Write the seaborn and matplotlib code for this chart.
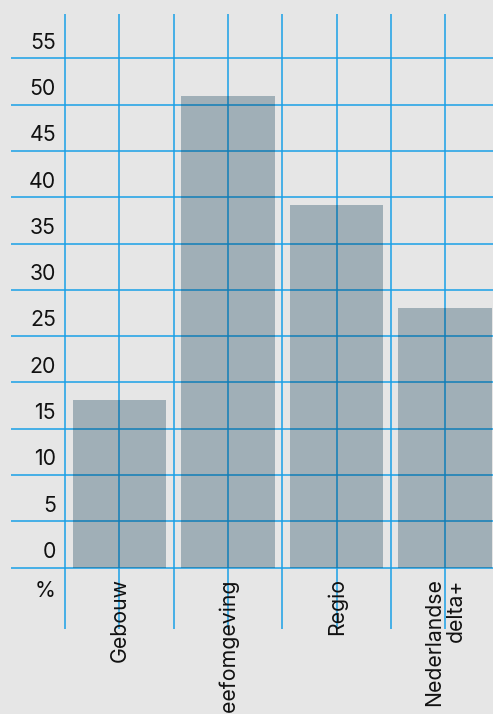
import matplotlib
matplotlib.use("Agg")
import matplotlib.pyplot as plt
import numpy as np
import pandas as pd
import seaborn as sns

# Share per scale level (%)
categories = ["Gebouw", "Leefomgeving", "Regio", "Nederlandse\ndelta+"]
values = [18.1, 50.9, 39.2, 28.0]
y_ticks = [0, 5, 10, 15, 20, 25, 30, 35, 40, 45, 50, 55]
unit_label = "%"

sns.set_theme(style="white")
plt.rcParams["font.family"] = ["Inter", "DejaVu Sans"]

BG = "#e6e6e6"
GRID = "#1aa0e6"
BAR = "#00324d"
TEXT = "#111111"
FS = 15.3

fig = plt.figure(figsize=(4.93, 7.14), dpi=100, facecolor=BG)
ax = fig.add_axes([0, 0, 1, 1])
ax.set_facecolor(BG)

df = pd.DataFrame({"categorie": categories, "waarde": values})
sns.barplot(data=df, x="categorie", y="waarde", color=BAR, alpha=0.3,
            saturation=1, width=0.86, linewidth=0, edgecolor="none",
            ax=ax, zorder=3)

# blue grid: horizontal lines at each tick, vertical lines at bar centres and between bars
ax.hlines(y_ticks, -1.0, 3.6, color=GRID, lw=1.1, zorder=1)
ax.vlines(np.arange(-0.5, len(categories) + 0.01, 0.5), -6.6, 59.8,
          color=GRID, lw=1.1, zorder=1)

ax.set_xlim(-1.101, 3.442)
ax.set_ylim(-15.8, 61.3)
ax.set_xticks([])
ax.set_yticks([])
ax.set_xlabel("")
ax.set_ylabel("")
for s in ax.spines.values():
    s.set_visible(False)

for v in y_ticks:
    ax.text(-0.585, v + 1.7, str(v), ha="right", va="center",
            fontsize=FS, color=TEXT)
ax.text(-0.585, -2.5, unit_label, ha="right", va="center",
        fontsize=FS, color=TEXT)

for i, cat in enumerate(categories):
    ax.text(i, -1.15, cat, rotation=90, ha="center", va="top",
            multialignment="right", fontsize=FS, color=TEXT,
            linespacing=1.1)

fig.savefig("out.png", dpi=100, facecolor=BG)
